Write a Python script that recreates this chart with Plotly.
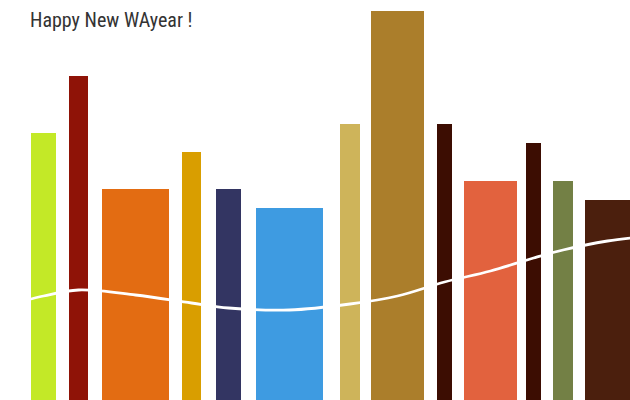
import plotly.graph_objects as go

# Bar data (variable-width bars)
bar_left = [31, 69, 102, 182, 216, 256, 340, 371, 437, 464, 526, 553, 585]
bar_width = [25, 19, 67, 19, 25, 67, 20, 53, 15, 53, 15, 20, 46]
bar_values = [267, 324, 211, 248, 211, 192, 276, 389, 276, 219, 257, 219, 200]
bar_colors = ["#C3E927", "#8F1307", "#E36C12", "#D99E00", "#333562", "#3E9BE1",
              "#CEB45A", "#AB7E2B", "#3C0D02", "#E2623E", "#3C0D02", "#738045", "#4B1F0D"]

# Smooth line data
line_x = [0, 43.5, 78.5, 135.5, 191.5, 228.5, 289.5, 350, 397.5, 444.5, 490.5, 533.5, 563, 607.5, 640]
line_y = [93, 104, 110, 105, 97, 92, 90, 96, 104, 118, 129, 142, 150, 159, 163]

title_text = "Happy New WAyear !"

centers = [l + w / 2 for l, w in zip(bar_left, bar_width)]

fig = go.Figure()
fig.add_trace(go.Bar(
    x=centers, y=bar_values, width=bar_width,
    marker=dict(color=bar_colors, line=dict(width=0)),
    hoverinfo="skip", showlegend=False,
))
fig.add_trace(go.Scatter(
    x=line_x, y=line_y, mode="lines",
    line=dict(color="white", width=2.8, shape="spline", smoothing=1.0),
    hoverinfo="skip", showlegend=False,
))

fig.update_layout(
    width=630, height=400,
    margin=dict(l=0, r=0, t=0, b=0),
    paper_bgcolor="white", plot_bgcolor="white",
    xaxis=dict(range=[0, 630], visible=False, fixedrange=True),
    yaxis=dict(range=[0, 400], visible=False, fixedrange=True),
    bargap=0,
    annotations=[dict(
        text=title_text, xref="paper", yref="paper",
        x=28 / 630, y=1 - 6 / 400, xanchor="left", yanchor="top",
        showarrow=False,
        font=dict(family="Roboto Condensed, Roboto", size=20, color="#333333"),
    )],
)

fig.write_html("out.html", config={"displayModeBar": False},
               post_script="document.body.style.margin='0';")
